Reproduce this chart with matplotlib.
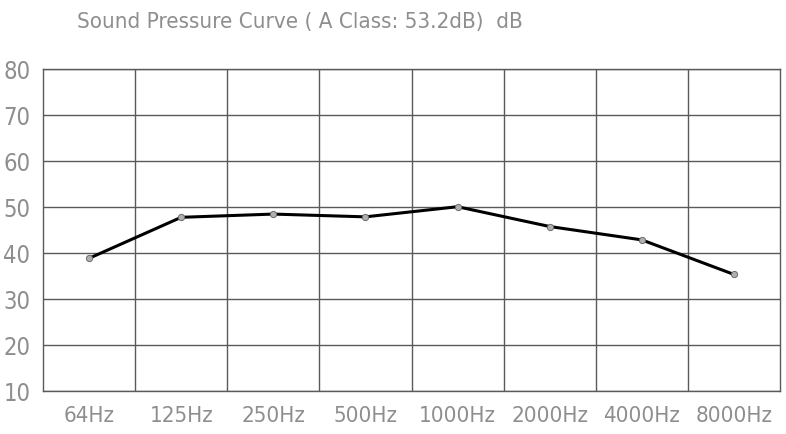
import matplotlib
matplotlib.use('Agg')
import matplotlib.pyplot as plt
import numpy as np

bands = ['64Hz', '125Hz', '250Hz', '500Hz', '1000Hz', '2000Hz', '4000Hz', '8000Hz']
spl_db = [38.8, 47.7, 48.4, 47.8, 50.0, 45.7, 42.8, 35.3]
y_ticks = [10, 20, 30, 40, 50, 60, 70, 80]

font = ['DejaVu Sans']
text_color = '#8e8e8e'
grid_color = '#5a5a5a'

fig = plt.figure(figsize=(7.86, 4.35), dpi=100)
ax = fig.add_axes([43 / 786, 1 - 392 / 435, (780 - 43) / 786, (392 - 69.5) / 435])

x = np.arange(len(bands))
ax.plot(x, spl_db, color='black', lw=2.2, zorder=3)
ax.plot(x, spl_db, ls='none', marker='o', ms=4.5, mfc='#b0b0b0', mec='#6a6a6a', mew=0.7, zorder=4)

ax.set_xlim(-0.5, len(bands) - 0.5)
ax.set_ylim(10, 80)
ax.set_yticks(y_ticks)
ax.set_xticks(x)
ax.set_xticklabels(bands)
ax.set_xticks(x[:-1] + 0.5, minor=True)

ax.grid(which='minor', axis='x', color=grid_color, lw=1)
ax.grid(which='major', axis='y', color=grid_color, lw=1)
ax.tick_params(which='both', length=0)
ax.tick_params(axis='x', pad=10)
ax.tick_params(axis='y', pad=9)
for lab in ax.get_xticklabels():
    lab.set_family(font)
    lab.set_stretch('condensed')
    lab.set_fontsize(16)
    lab.set_color(text_color)
for lab in ax.get_yticklabels():
    lab.set_family(font)
    lab.set_stretch('condensed')
    lab.set_fontsize(17)
    lab.set_color(text_color)
for s in ax.spines.values():
    s.set_color(grid_color)
    s.set_linewidth(1)

fig.text(77 / 786, 1 - 22 / 435, 'Sound Pressure Curve ( A Class: 53.2dB)  dB',
         family=font, stretch='condensed', fontsize=16, color=text_color, ha='left', va='center')

plt.savefig('out.png', dpi=100)
